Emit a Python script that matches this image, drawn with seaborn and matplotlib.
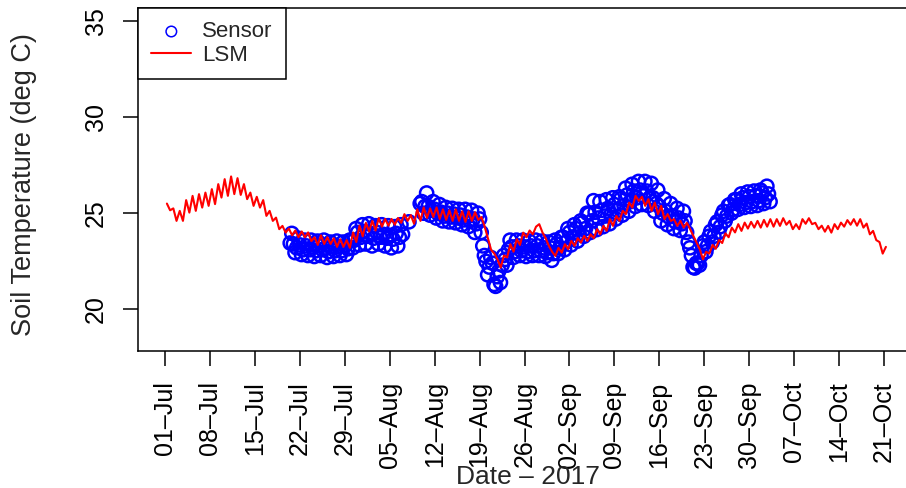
import numpy as np
import pandas as pd
import matplotlib
matplotlib.use('Agg')
import matplotlib.pyplot as plt
import seaborn as sns

# LSM soil temperature, 12-hourly, starting 01-Jul-2017 07:00 (deg C)
lsm_temp = [
    25.5, 25.15, 25.25, 24.6, 25.12, 24.6, 25.68, 25.03, 25.9, 25.12,
    25.99, 25.29, 26.07, 25.38, 26.25, 25.47, 26.51, 25.81, 26.77, 25.9,
    26.91, 25.99, 26.82, 25.95, 26.51, 25.73, 26.07, 25.38, 25.85, 25.29,
    25.68, 24.86, 25.12, 24.6, 24.77, 24.17, 24.34, 23.99, 24.2, 23.85,
    24.1, 23.75, 24.05, 23.75, 24.0, 23.55, 23.75, 23.35, 23.85, 23.4,
    23.75, 23.4, 23.7, 23.25, 23.65, 23.25, 23.6, 23.2, 24.0, 23.5,
    24.35, 23.8, 24.5, 24.05, 24.6, 24.1, 24.75, 24.3, 24.7, 24.35,
    24.7, 24.4, 24.75, 24.5, 24.95, 24.6, 24.9, 24.45, 25.2, 24.6,
    25.3, 24.75, 25.25, 24.8, 25.3, 24.7, 25.2, 24.65, 25.15, 24.6,
    25.2, 24.6, 25.1, 24.55, 25.1, 24.6, 25.05, 24.65, 24.8, 24.3,
    23.7, 23.1, 22.9, 22.6, 22.17, 22.8, 22.7, 23.39, 23.0, 23.65,
    23.35, 23.99, 23.75, 24.1, 23.9, 24.3, 24.43, 24.0, 23.7, 23.3,
    23.0, 22.78, 23.2, 22.95, 23.39, 23.13, 23.56, 23.3, 23.7, 23.47,
    23.82, 23.56, 23.9, 23.7, 24.17, 23.9, 24.34, 24.08, 24.69, 24.34,
    24.86, 24.6, 25.12, 24.95, 25.55, 25.29, 25.9, 25.64, 25.85, 25.38,
    25.73, 25.12, 25.55, 24.95, 25.38, 24.69, 24.95, 24.6, 24.69, 24.34,
    24.6, 24.25, 24.5, 24.17, 23.82, 23.47, 23.13, 22.6, 23.0, 22.9,
    23.35, 23.15, 23.6, 23.45, 23.95, 23.75, 24.25, 24.0, 24.43, 24.08,
    24.51, 24.2, 24.55, 24.25, 24.6, 24.25, 24.65, 24.3, 24.69, 24.3,
    24.69, 24.34, 24.74, 24.4, 24.6, 24.17, 24.43, 24.17, 24.69, 24.45,
    24.74, 24.43, 24.5, 24.17, 24.35, 24.04, 24.34, 23.99, 24.43, 24.17,
    24.51, 24.3, 24.64, 24.4, 24.69, 24.35, 24.69, 24.25, 24.46, 23.9,
    24.08, 23.6, 23.5, 22.9, 23.25,
]

# sensor soil temperature, 6-hourly, starting 20-Jul-2017 00:00 (deg C)
nan = np.nan
sensor_temp = [
    nan, nan, 23.45, 23.95,
    23.4, 22.95, 23.2, 23.7,
    23.35, 22.85, 23.1, 23.6,
    23.3, 22.8, 23.1, 23.6,
    23.25, 22.75, 23.05, 23.55,
    23.3, 22.8, 23.1, 23.6,
    23.2, 22.7, 23.0, 23.5,
    23.25, 22.75, 23.05, 23.55,
    23.25, 22.8, 23.05, 23.5,
    23.3, 22.85, 23.15, 23.6,
    23.6, 23.2, 23.6, 24.2,
    24.0, 23.35, 23.75, 24.4,
    24.05, 23.4, 23.8, 24.45,
    23.95, 23.3, 23.7, 24.35,
    24.0, 23.4, 23.75, 24.4,
    23.9, 23.3, 23.7, 24.35,
    23.85, 23.2, 23.65, 24.3,
    23.95, 23.3, 23.75, 24.4,
    23.9, nan, nan, nan,
    24.55, nan, nan, nan,
    nan, nan, nan, 25.5,
    25.6, 25.0, 25.35, 26.05,
    25.35, 24.9, 25.15, 25.6,
    25.2, 24.75, 25.0, 25.45,
    25.05, 24.6, 24.85, 25.3,
    25.0, 24.55, 24.8, 25.25,
    24.95, 24.5, 24.75, 25.2,
    24.9, 24.4, 24.65, 25.2,
    24.8, 24.3, 24.6, 25.15,
    24.7, 24.0, 24.45, 25.0,
    24.7, 24.0, 23.3, 22.8,
    22.5, 21.8, 22.2, 22.7,
    22.4, 21.3, 21.2, 21.7,
    22.0, 21.4, 22.3, 22.8,
    22.6, 22.3, 23.1, 23.6,
    23.25, 22.7, 23.0, 23.6,
    23.3, 22.8, 23.05, 23.6,
    23.25, 22.75, 23.0, 23.55,
    23.3, 22.8, 23.05, 23.6,
    23.3, 22.8, 23.05, 23.55,
    23.2, 22.75, 22.95, 23.5,
    23.2, 22.55, 22.9, 23.6,
    23.4, 22.9, 23.2, 23.75,
    23.75, 23.1, 23.5, 24.2,
    24.0, 23.35, 23.75, 24.4,
    24.2, 23.55, 23.95, 24.6,
    24.5, 23.8, 24.2, 25.0,
    24.95, 24.0, 24.6, 25.65,
    25.05, 24.15, 24.75, 25.6,
    25.15, 24.3, 24.85, 25.7,
    25.25, 24.45, 24.95, 25.8,
    25.45, 24.7, 25.15, 25.85,
    25.75, 24.9, 25.4, 26.3,
    25.95, 25.1, 25.6, 26.5,
    26.15, 25.35, 25.8, 26.65,
    26.2, 25.45, 25.9, 26.65,
    26.15, 25.4, 25.8, 26.55,
    25.8, 25.1, 25.5, 26.2,
    25.35, 24.6, 25.0, 25.75,
    25.1, 24.4, 24.8, 25.5,
    24.85, 24.2, 24.55, 25.25,
    24.75, 24.1, 24.45, 25.1,
    24.6, 24.0, 23.5, 23.2,
    22.8, 22.2, 22.15, 22.4,
    22.4, 22.3, 22.8, 23.3,
    23.5, 23.0, 23.3, 23.8,
    24.05, 23.5, 23.8, 24.4,
    24.55, 24.0, 24.3, 24.9,
    25.1, 24.6, 24.85, 25.4,
    25.45, 25.0, 25.2, 25.7,
    25.7, 25.2, 25.45, 26.0,
    25.8, 25.3, 25.55, 26.1,
    25.85, 25.35, 25.6, 26.15,
    25.9, 25.4, 25.65, 26.2,
    26.05, 25.5, 25.8, 26.4,
    26.0, 25.6, nan, nan,
]

tick_dates = ['2017-07-01', '2017-07-08', '2017-07-15', '2017-07-22', '2017-07-29',
              '2017-08-05', '2017-08-12', '2017-08-19', '2017-08-26', '2017-09-02',
              '2017-09-09', '2017-09-16', '2017-09-23', '2017-09-30', '2017-10-07',
              '2017-10-14', '2017-10-21']
tick_labels = ['01–Jul', '08–Jul', '15–Jul', '22–Jul', '29–Jul', '05–Aug', '12–Aug',
               '19–Aug', '26–Aug', '02–Sep', '09–Sep', '16–Sep', '23–Sep', '30–Sep',
               '07–Oct', '14–Oct', '21–Oct']
y_ticks = [20, 25, 30, 35]

lsm_time = pd.date_range('2017-07-01 07:00', periods=len(lsm_temp), freq='12h')
sensor_time = pd.date_range('2017-07-20 00:00', periods=len(sensor_temp), freq='6h')

sns.set_theme(style='white')
plt.rcParams['font.family'] = ['Liberation Sans', 'DejaVu Sans']

fig = plt.figure(figsize=(9.06, 4.88), dpi=100)
ax = fig.add_axes([138 / 906, 137 / 488, 780 / 906, 343 / 488])

sns.scatterplot(x=sensor_time, y=sensor_temp, ax=ax, marker='o', s=90,
                facecolor='none', edgecolor='blue', linewidth=1.8,
                label='Sensor', zorder=2)
ax.collections[-1].set_facecolor('none')
sns.lineplot(x=lsm_time, y=lsm_temp, ax=ax, color='red', linewidth=1.5,
             label='LSM', estimator=None, zorder=3)

base = pd.Timestamp('2017-07-01')
ax.set_xlim(base - pd.Timedelta(days=4.21), base + pd.Timedelta(days=117.29))
ax.set_ylim(17.84, 35.66)
ax.set_xticks(pd.to_datetime(tick_dates), tick_labels, rotation=90)
ax.set_yticks(y_ticks)
ax.set_xlabel('')
ax.set_ylabel('')

ax.tick_params(axis='both', direction='out', length=10.8, width=1.1, color='black',
               labelsize=18, labelcolor='black', pad=11,
               bottom=True, left=True, top=False, right=False)
ax.tick_params(axis='y', labelrotation=90)
for lbl in ax.get_yticklabels():
    lbl.set_va('center')
for s in ax.spines.values():
    s.set_visible(True)
    s.set_color('black')
    s.set_linewidth(1.1)

leg = ax.legend(loc='upper left', bbox_to_anchor=(0, 1), borderaxespad=0,
                frameon=True, fancybox=False, edgecolor='black', framealpha=1,
                fontsize=16, borderpad=0.6, labelspacing=0.1,
                handlelength=1.8, handletextpad=0.5, markerscale=0.8)
leg.get_frame().set_linewidth(1.1)
for h in leg.legend_handles:
    if hasattr(h, 'set_linewidths') and not hasattr(h, 'get_xydata'):
        h.set_linewidths([1.1])

fig.text(528 / 906, 4 / 488, 'Date – 2017', ha='center', va='baseline', fontsize=19)
fig.text(24 / 906, (488 - 184.5) / 488, 'Soil Temperature (deg C)', rotation=90,
         ha='center', va='center', fontsize=19.5)

fig.savefig('out.png', dpi=100)
